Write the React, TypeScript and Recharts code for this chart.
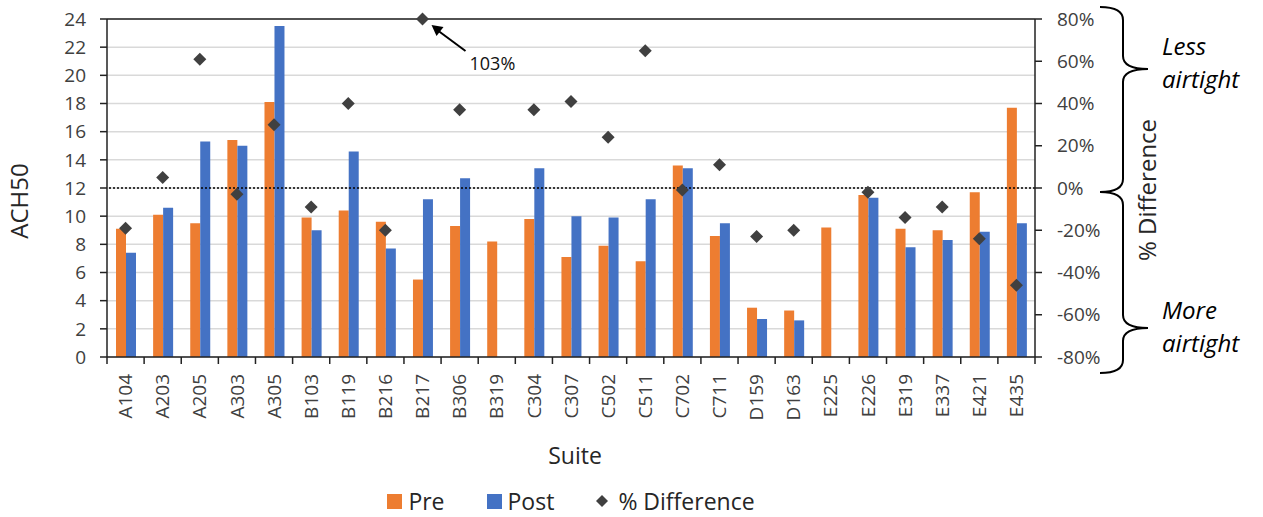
import React from "react";
import {
  ComposedChart,
  Bar,
  Scatter,
  XAxis,
  YAxis,
  CartesianGrid,
  ReferenceLine,
} from "recharts";

const suites = [
  "A104", "A203", "A205", "A303", "A305", "B103", "B119", "B216", "B217",
  "B306", "B319", "C304", "C307", "C502", "C511", "C702", "C711", "D159",
  "D163", "E225", "E226", "E319", "E337", "E421", "E435",
];

const preValues = [
  9.1, 10.1, 9.5, 15.4, 18.1, 9.9, 10.4, 9.6, 5.5, 9.3, 8.2, 9.8, 7.1, 7.9,
  6.8, 13.6, 8.6, 3.5, 3.3, 9.2, 11.5, 9.1, 9.0, 11.7, 17.7,
];

const postValues = [
  7.4, 10.6, 15.3, 15.0, 23.5, 9.0, 14.6, 7.7, 11.2, 12.7, null, 13.4, 10.0,
  9.9, 11.2, 13.4, 9.5, 2.7, 2.6, null, 11.3, 7.8, 8.3, 8.9, 9.5,
];

const pctDiff = [
  -19, 5, 61, -3, 30, -9, 40, -20, 103, 37, null, 37, 41, 24, 65, -1, 11,
  -23, -20, null, -2, -14, -9, -24, -46,
];

const achTicks = [0, 2, 4, 6, 8, 10, 12, 14, 16, 18, 20, 22, 24];
const pctTicks = [-80, -60, -40, -20, 0, 20, 40, 60, 80];
const PCT_CAP = 80;

const data = suites.map((suite, i) => ({
  suite,
  pre: preValues[i],
  post: postValues[i],
  diff: pctDiff[i],
  diffPlot: pctDiff[i] == null ? null : Math.min(pctDiff[i] as number, PCT_CAP),
}));

const ORANGE = "#ED7D31";
const BLUE = "#4472C4";
const DARK = "#404040";
const AXIS = "#222";

// plot area 107..1035 split into 25 bands
const BAND = (1035 - 107) / suites.length;

function SuiteTick(props: any) {
  const { x, y, payload } = props;
  const half = BAND / 2;
  const last = payload.value === suites[suites.length - 1];
  return (
    <g transform={`translate(${x},${y})`}>
      <line x1={-half} y1={-7} x2={-half} y2={0} stroke={AXIS} strokeWidth={1.5} />
      {last && (
        <line x1={half} y1={-7} x2={half} y2={0} stroke={AXIS} strokeWidth={1.5} />
      )}
      <text
        transform="rotate(-90)"
        x={-10}
        y={0}
        dy="0.35em"
        textAnchor="end"
        fontSize={19}
        fill={DARK}
      >
        {payload.value}
      </text>
    </g>
  );
}

function Diamond(props: any) {
  const { cx, cy, payload } = props;
  if (payload == null || payload.diff == null || !isFinite(cy)) return <g />;
  const r = 6.5;
  return (
    <g>
      <polygon
        points={`${cx},${cy - r} ${cx + r},${cy} ${cx},${cy + r} ${cx - r},${cy}`}
        fill={DARK}
      />
      {payload.diff > PCT_CAP && (
        <g>
          <line
            x1={cx + 43}
            y1={cy + 32}
            x2={cx + 16}
            y2={cy + 12}
            stroke="#000"
            strokeWidth={2}
          />
          <polygon
            points={`${cx + 9},${cy + 6} ${cx + 21},${cy + 8} ${cx + 14},${cy + 17}`}
            fill="#000"
          />
          <text x={cx + 47} y={cy + 51} fontSize={18} fill="#111">
            {payload.diff}%
          </text>
        </g>
      )}
    </g>
  );
}

function LeftTitle(props: any) {
  const vb = props.viewBox;
  const x = vb.x - 2;
  const y = vb.y + vb.height / 2 + 13;
  return (
    <text
      x={x}
      y={y}
      transform={`rotate(-90, ${x}, ${y})`}
      textAnchor="middle"
      dominantBaseline="central"
      fontSize={24}
      fill="#262626"
    >
      ACH50
    </text>
  );
}

function RightTitle(props: any) {
  const vb = props.viewBox;
  const x = vb.x + 111;
  const y = vb.y + vb.height / 2 + 2;
  return (
    <text
      x={x}
      y={y}
      transform={`rotate(-90, ${x}, ${y})`}
      textAnchor="middle"
      dominantBaseline="central"
      fontSize={24}
      fill="#262626"
    >
      % Difference
    </text>
  );
}

function BottomTitle(props: any) {
  const vb = props.viewBox;
  return (
    <text
      x={vb.x + vb.width / 2 + 4}
      y={vb.y + 98}
      textAnchor="middle"
      dominantBaseline="central"
      fontSize={23}
      fill="#262626"
    >
      Suite
    </text>
  );
}

export default function App() {
  return (
    <div
      style={{
        position: "absolute",
        left: 0,
        top: 0,
        width: 1263,
        height: 517,
        background: "#fff",
        fontFamily: "'Open Sans', sans-serif",
      }}
    >
      <ComposedChart
        width={1263}
        height={517}
        data={data}
        barGap={0}
        margin={{ top: 19, right: 103, bottom: 50, left: 20 }}
      >
        <CartesianGrid
          yAxisId="left"
          vertical={false}
          stroke="#d9d9d9"
          strokeWidth={1.5}
        />
        <XAxis
          dataKey="suite"
          height={110}
          interval={0}
          tickSize={7}
          tickMargin={0}
          tickLine={false}
          axisLine={{ stroke: AXIS, strokeWidth: 1.5 }}
          tick={<SuiteTick />}
          label={{ content: <BottomTitle /> }}
        />
        <YAxis
          yAxisId="left"
          width={87}
          domain={[0, 24]}
          ticks={achTicks}
          interval={0}
          tickSize={7}
          tickMargin={14}
          axisLine={{ stroke: AXIS, strokeWidth: 1.5 }}
          tickLine={{ stroke: AXIS, strokeWidth: 1.5 }}
          tick={{ fontSize: 19, fill: DARK }}
          label={{ content: <LeftTitle /> }}
        />
        <YAxis
          yAxisId="right"
          orientation="right"
          width={125}
          domain={[-80, 80]}
          ticks={pctTicks}
          interval={0}
          tickSize={7}
          tickMargin={15}
          tickFormatter={(v: number) => `${v}%`}
          axisLine={{ stroke: AXIS, strokeWidth: 1.5 }}
          tickLine={{ stroke: AXIS, strokeWidth: 1.5 }}
          tick={{ fontSize: 19, fill: DARK, textAnchor: "start" }}
          label={{ content: <RightTitle /> }}
        />
        <ReferenceLine yAxisId="left" y={24} stroke={AXIS} strokeWidth={1.5} />
        <Bar
          yAxisId="left"
          dataKey="pre"
          fill={ORANGE}
          barSize={10}
          isAnimationActive={false}
        />
        <Bar
          yAxisId="left"
          dataKey="post"
          fill={BLUE}
          barSize={10}
          isAnimationActive={false}
        />
        <ReferenceLine
          yAxisId="right"
          y={0}
          stroke="#000"
          strokeWidth={1.5}
          strokeDasharray="2 2"
        />
        <Scatter
          yAxisId="right"
          dataKey="diffPlot"
          shape={<Diamond />}
          isAnimationActive={false}
        />
      </ComposedChart>

      <svg
        width={1263}
        height={517}
        style={{ position: "absolute", left: 0, top: 0, pointerEvents: "none" }}
      >
        <path
          d="M1100,7 Q1123,7 1123,20 L1123,56 Q1123,69 1148,69 Q1123,69 1123,82 L1123,179 Q1123,192 1100,192"
          fill="none"
          stroke="#000"
          strokeWidth={2}
        />
        <path
          d="M1100,192 Q1123,192 1123,205 L1123,315 Q1123,328 1148,328 Q1123,328 1123,341 L1123,360 Q1123,373 1100,373"
          fill="none"
          stroke="#000"
          strokeWidth={2}
        />
        <g fontSize={24} fontStyle="italic" fill="#000">
          <text x={1162} y={55}>Less</text>
          <text x={1162} y={88}>airtight</text>
          <text x={1162} y={319}>More</text>
          <text x={1162} y={352}>airtight</text>
        </g>
      </svg>

      <div
        style={{
          position: "absolute",
          left: 107,
          top: 486,
          width: 928,
          display: "flex",
          justifyContent: "center",
          alignItems: "center",
          fontSize: 23,
          color: "#262626",
          lineHeight: "30px",
        }}
      >
        <span style={{ display: "flex", alignItems: "center", marginRight: 42 }}>
          <span style={{ width: 15, height: 15, background: ORANGE, marginRight: 6 }} />
          Pre
        </span>
        <span style={{ display: "flex", alignItems: "center", marginRight: 42 }}>
          <span style={{ width: 15, height: 15, background: BLUE, marginRight: 6 }} />
          Post
        </span>
        <span style={{ display: "flex", alignItems: "center" }}>
          <svg width={12} height={12} style={{ marginRight: 10 }}>
            <polygon points="6,0 12,6 6,12 0,6" fill={DARK} />
          </svg>
          % Difference
        </span>
      </div>
    </div>
  );
}
